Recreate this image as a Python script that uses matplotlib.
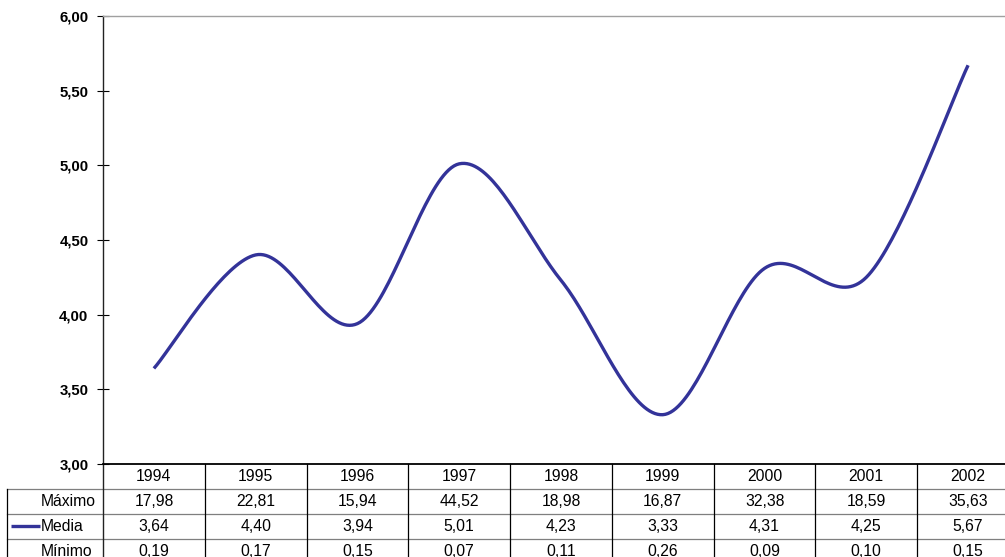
import numpy as np
import matplotlib
matplotlib.use("Agg")
import matplotlib.pyplot as plt
import matplotlib.transforms as mtransforms
from matplotlib.ticker import FuncFormatter

plt.rcParams['font.family'] = ['Liberation Sans', 'DejaVu Sans']

# --- Data ---
years = ["1994", "1995", "1996", "1997", "1998", "1999", "2000", "2001", "2002"]
maximo = [17.98, 22.81, 15.94, 44.52, 18.98, 16.87, 32.38, 18.59, 35.63]
media = [3.64, 4.40, 3.94, 5.01, 4.23, 3.33, 4.31, 4.25, 5.67]
minimo = [0.19, 0.17, 0.15, 0.07, 0.11, 0.26, 0.09, 0.10, 0.15]
row_labels = ["Máximo", "Media", "Mínimo"]

LINE_COLOR = '#333399'
TXT = 11.3


def fmt(v):
    return f"{v:.2f}".replace('.', ',')


def smooth_curve(xs, ys, n=40):
    # Excel-like smoothed line (Catmull-Rom as cubic Bezier)
    pts = np.column_stack([xs, ys]).astype(float)
    ext = np.vstack([pts[0], pts, pts[-1]])
    out = []
    for i in range(len(pts) - 1):
        p0, p3 = ext[i + 1], ext[i + 2]
        c1 = p0 + (ext[i + 2] - ext[i]) / 6.0
        c2 = p3 - (ext[i + 3] - ext[i + 1]) / 6.0
        t = np.linspace(0, 1, n)[:, None]
        seg = ((1 - t) ** 3) * p0 + 3 * ((1 - t) ** 2) * t * c1 + 3 * (1 - t) * t ** 2 * c2 + t ** 3 * p3
        out.append(seg if i == 0 else seg[1:])
    out = np.vstack(out)
    return out[:, 0], out[:, 1]


fig = plt.figure(figsize=(10.05, 5.57), dpi=100)
ax = fig.add_axes([0.1025, 0.167, 0.9114, 0.8043])

x = np.arange(len(years))
sx, sy = smooth_curve(x, media)
ax.plot(sx, sy, color=LINE_COLOR, lw=2.4, solid_capstyle='butt')

ax.set_xlim(-0.5, len(years) - 0.5)
ax.set_ylim(3.0, 6.0)
ax.set_yticks(np.arange(3.0, 6.01, 0.5))
ax.yaxis.set_major_formatter(FuncFormatter(lambda v, p: fmt(v)))
ax.set_xticks([])
ax.tick_params(axis='y', direction='inout', length=9, width=0.8, pad=6,
               labelsize=10.8)
for lab in ax.get_yticklabels():
    lab.set_fontweight('bold')

ax.spines['right'].set_visible(False)
ax.spines['top'].set_color('#a0a0a0')
ax.spines['top'].set_linewidth(1.0)
ax.spines['left'].set_color('#222222')
ax.spines['left'].set_linewidth(1.0)
ax.spines['bottom'].set_color('black')
ax.spines['bottom'].set_linewidth(1.3)

# --- Data table below the axis ---
ax_h_px = 448.0
col_px = 101.8
rows_px = [0, 25.5, 50, 75, 99.5]  # row boundaries below the x axis
ry = [-r / ax_h_px for r in rows_px]
label_left = -0.5 - 96.0 / col_px

trans = mtransforms.blended_transform_factory(ax.transData, ax.transAxes)

# horizontal lines
for yb in ry[1:]:
    ax.plot([label_left, len(years) - 0.5], [yb, yb], transform=trans,
            color='#7f7f7f', lw=0.9, clip_on=False)
# vertical lines
for i in range(len(years)):
    ax.plot([i + 0.5, i + 0.5], [ry[0], ry[-1]], transform=trans,
            color='black', lw=0.9, clip_on=False)
ax.plot([-0.5, -0.5], [ry[0], ry[-1]], transform=trans,
        color='#222222', lw=1.0, clip_on=False)
ax.plot([label_left, label_left], [ry[1], ry[-1]], transform=trans,
        color='black', lw=0.9, clip_on=False)

# header row
for i, yr in enumerate(years):
    ax.text(i, (ry[0] + ry[1]) / 2, yr, transform=trans, ha='center',
            va='center', fontsize=TXT, clip_on=False)

# body rows
rows = [maximo, media, minimo]
label_x = -0.5 + (41 - 103) / col_px
for r, (name, vals) in enumerate(zip(row_labels, rows)):
    yc = (ry[r + 1] + ry[r + 2]) / 2
    ax.text(label_x, yc, name, transform=trans, ha='left', va='center',
            fontsize=TXT, clip_on=False)
    for i, v in enumerate(vals):
        ax.text(i, yc, fmt(v), transform=trans, ha='center', va='center',
                fontsize=TXT, clip_on=False)

# legend key in the Media row
ym = (ry[2] + ry[3]) / 2
kx0 = -0.5 + (11 - 103) / col_px
kx1 = -0.5 + (40 - 103) / col_px
ax.plot([kx0, kx1], [ym, ym], transform=trans, color=LINE_COLOR, lw=2.4,
        clip_on=False, solid_capstyle='butt')

fig.savefig("out.png", dpi=100)
